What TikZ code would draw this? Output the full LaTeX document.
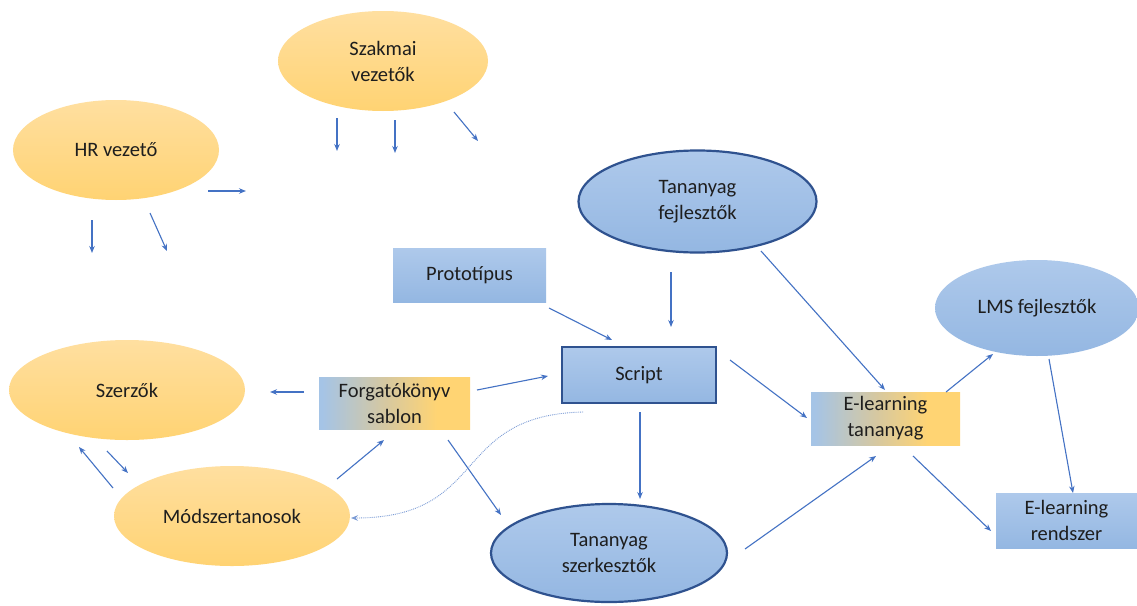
\documentclass[tikz,border=0pt]{standalone}
\usepackage{fontspec}
\setmainfont{Carlito}
\usetikzlibrary{shapes.geometric,arrows.meta}
\definecolor{arr}{RGB}{68,114,196}
\definecolor{dblue}{RGB}{47,82,143}
\definecolor{btop}{RGB}{174,201,235}
\definecolor{bbot}{RGB}{148,183,226}
\definecolor{otop}{RGB}{255,223,160}
\definecolor{obot}{RGB}{255,211,115}
\definecolor{gleft}{RGB}{165,196,230}
\definecolor{gmid}{RGB}{214,200,160}
\definecolor{gright}{RGB}{255,212,115}
\definecolor{txt}{RGB}{30,30,30}
\pgfdeclarehorizontalshading{blueorange}{100bp}{color(0bp)=(gleft); color(26bp)=(gleft); color(47bp)=(gmid); color(64bp)=(gright); color(100bp)=(gright)}
\tikzset{
  every node/.style={font=\fontsize{20.5}{26}\selectfont, text=txt, align=center, inner sep=0pt},
  orangeell/.style={ellipse, top color=otop, bottom color=obot, draw=none},
  blueell/.style={ellipse, top color=btop, bottom color=bbot, draw=none},
  blueellb/.style={ellipse, top color=btop, bottom color=bbot, draw=dblue, line width=2.2pt},
  bluebox/.style={rectangle, top color=btop, bottom color=bbot, draw=none},
  blueboxb/.style={rectangle, top color=btop, bottom color=bbot, draw=dblue, line width=2.4pt},
  gradbox/.style={rectangle, shading=blueorange, draw=none},
  conn/.style={draw=arr, line width=1.1pt, -{Stealth[length=7pt,width=5.5pt]}},
  dotconn/.style={draw=arr!70, line width=0.9pt, densely dotted, -{Stealth[length=7pt,width=5.5pt]}}
}
\begin{document}
\begin{tikzpicture}[x=1pt,y=-1pt]
\useasboundingbox (0,0) rectangle (1137,605);
\fill[white] (0,0) rectangle (1137,605);
% nodes
\node[orangeell, minimum width=210pt, minimum height=100pt] (szak) at (383,61) {Szakmai\\vezetők};
\node[orangeell, minimum width=206pt, minimum height=100pt] (hr) at (116,150) {HR vezető};
\node[blueellb, minimum width=238pt, minimum height=102pt] (tf) at (697.5,201.5) {Tananyag\\fejlesztők};
\node[bluebox, minimum width=153pt, minimum height=54pt] (proto) at (469.5,275) {Prototípus};
\node[blueboxb, minimum width=154pt, minimum height=56pt] (script) at (639,375) {Script};
\node[blueell, minimum width=204pt, minimum height=96pt] (lms) at (1037,308) {LMS fejlesztők};
\node[orangeell, minimum width=236pt, minimum height=100pt] (szerz) at (127,390) {Szerzők};
\node[gradbox, minimum width=151pt, minimum height=52pt] (forg) at (394.5,403) {Forgatókönyv\\sablon};
\node[gradbox, minimum width=149pt, minimum height=53pt] (elt) at (885.5,418.5) {E-learning\\tananyag};
\node[orangeell, minimum width=236pt, minimum height=100pt] (modsz) at (232,516) {Módszertanosok};
\node[blueellb, minimum width=236pt, minimum height=98pt] (tsz) at (609,553) {Tananyag\\szerkesztők};
\node[bluebox, minimum width=141pt, minimum height=55pt] (er) at (1066.5,520.5) {E-learning\\rendszer};
% arrow end coordinates
\coordinate (s1a) at (337,118); \coordinate (s1b) at (337,151);
\coordinate (s2a) at (395,120); \coordinate (s2b) at (395,153);
\coordinate (s3a) at (454,112); \coordinate (s3b) at (478,141);
\coordinate (h1a) at (208,191); \coordinate (h1b) at (246,191);
\coordinate (h2a) at (92,220);  \coordinate (h2b) at (92,253);
\coordinate (h3a) at (150,213); \coordinate (h3b) at (167,251);
\coordinate (p1a) at (549,308); \coordinate (p1b) at (612,340);
\coordinate (t1a) at (671,272); \coordinate (t1b) at (671,327);
\coordinate (t2a) at (761,251); \coordinate (t2b) at (885,390);
\coordinate (f1a) at (477,390); \coordinate (f1b) at (548,376);
\coordinate (f2a) at (304,392); \coordinate (f2b) at (270,392);
\coordinate (m1a) at (337,479); \coordinate (m1b) at (384,440);
\coordinate (m2a) at (113,488); \coordinate (m2b) at (79,447);
\coordinate (z1a) at (107,451); \coordinate (z1b) at (128,473);
\coordinate (f3a) at (448,440); \coordinate (f3b) at (501,515);
\coordinate (c1a) at (640,412); \coordinate (c1b) at (640,499);
\coordinate (c2a) at (730,360); \coordinate (c2b) at (807,418);
\coordinate (d1a) at (583,412); \coordinate (d1b) at (351,518);
\coordinate (k1a) at (745,549); \coordinate (k1b) at (876,456);
\coordinate (e1a) at (946,392); \coordinate (e1b) at (993,354);
\coordinate (e2a) at (913,456); \coordinate (e2b) at (991,531);
\coordinate (l1a) at (1049,359); \coordinate (l1b) at (1073,493);
% connectors
\draw[conn] (s1a) -- (s1b);
\draw[conn] (s2a) -- (s2b);
\draw[conn] (s3a) -- (s3b);
\draw[conn] (h1a) -- (h1b);
\draw[conn] (h2a) -- (h2b);
\draw[conn] (h3a) -- (h3b);
\draw[conn] (p1a) -- (p1b);
\draw[conn] (t1a) -- (t1b);
\draw[conn] (t2a) -- (t2b);
\draw[conn] (f1a) -- (f1b);
\draw[conn] (f2a) -- (f2b);
\draw[conn] (m1a) -- (m1b);
\draw[conn] (m2a) -- (m2b);
\draw[conn] (z1a) -- (z1b);
\draw[conn] (f3a) -- (f3b);
\draw[conn] (c1a) -- (c1b);
\draw[conn] (c2a) -- (c2b);
\draw[dotconn] (d1a) .. controls (450,415) and (490,518) .. (d1b);
\draw[conn] (k1a) -- (k1b);
\draw[conn] (e1a) -- (e1b);
\draw[conn] (e2a) -- (e2b);
\draw[conn] (l1a) -- (l1b);
\end{tikzpicture}
\end{document}
